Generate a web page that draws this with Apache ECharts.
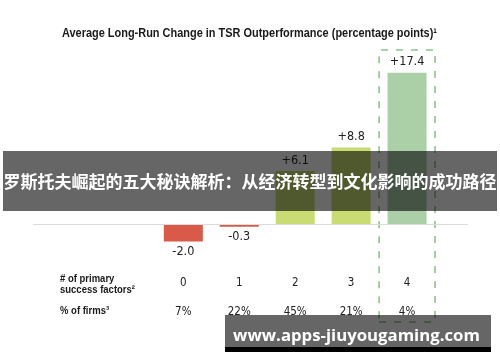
<!DOCTYPE html>
<html><head><meta charset="utf-8">
<script src="https://cdn.jsdelivr.net/npm/echarts@6/dist/echarts.min.js"></script>
<style>html,body{margin:0;padding:0;background:#fff}#c{width:500px;height:362px}</style>
</head><body><div id="c"></div>
<script>
var categories = [0, 1, 2, 3, 4];
var factorLabels = ['0', '1', '2', '3', '4'];
var tsrChange = [-2.0, -0.3, 6.1, 8.8, 17.4];
var firmShare = ['7%', '22%', '45%', '21%', '4%'];
var barColors = ['#d95a48', '#d95a48', '#c9dc73', '#c9dc73', '#abd0a8'];
var highlightIndex = 4;

var ctx = document.createElement('canvas').getContext('2d');
function has(fam) {
  ctx.font = '20px monospace'; var a = ctx.measureText('abcdefghijklmnopWM').width;
  ctx.font = '20px "' + fam + '", monospace'; var b = ctx.measureText('abcdefghijklmnopWM').width;
  return a !== b;
}
var fam = has('Liberation Sans Narrow') ? 'Liberation Sans Narrow' : (has('DejaVu Sans Condensed') ? 'DejaVu Sans Condensed' : 'Liberation Sans');
var narrow = '"' + fam + '", sans-serif';
var sans = '"Liberation Sans", Arial, sans-serif';
function width(text, font) { ctx.font = font; return ctx.measureText(text).width; }
function fit(text, weight, family, target) { return 100 * target / width(text, weight + ' 100px ' + family); }

var titleText = 'Average Long-Run Change in TSR Outperformance (percentage points)\u00b9';
var titleFont = 'bold 13px ' + sans;
var titleScale = 375 / width(titleText, titleFont);
var headFont = 'bold 11.5px ' + sans;
var headScale = 75 / width('success factors\u00b2', headFont);
var wmText = 'www.apps-jiuyougaming.com';
var wmSize = fit(wmText, 'bold', '"Open Sans", sans-serif', 247);

var chart = echarts.init(document.getElementById('c'), null, {renderer: 'canvas'});
var yMin = -11.25, yMax = 20;
chart.setOption({
  animation: false,
  grid: {left: 33, right: 32, top: 50, bottom: 40},
  xAxis: {
    type: 'value', min: -2.6875, max: 5.0893,
    axisLine: {show: false}, axisTick: {show: false}, splitLine: {show: false},
    axisLabel: {
      customValues: categories,
      margin: -53,
      formatter: function (v) {
        var i = categories.indexOf(v);
        return '{a|' + factorLabels[i] + '}\n{b|' + firmShare[i] + '}';
      },
      rich: {
        a: {fontFamily: narrow, fontSize: 11.5, color: '#222', lineHeight: 29},
        b: {fontFamily: narrow, fontSize: 11.5, color: '#222', lineHeight: 29}
      }
    }
  },
  yAxis: {type: 'value', min: yMin, max: yMax, show: false, splitLine: {show: false}},
  series: [{
    type: 'bar', barWidth: 39,
    data: categories.map(function (c, i) {
      return {value: [c, tsrChange[i]], label: {position: tsrChange[i] < 0 ? 'bottom' : 'top'}};
    }),
    itemStyle: {color: function (p) { return barColors[p.dataIndex]; }},
    label: {
      show: true, distance: 4,
      fontFamily: narrow, fontSize: 12.5, color: '#222',
      formatter: function (p) { var v = p.value[1]; return (v > 0 ? '+' : '') + v.toFixed(1); }
    },
    markLine: {
      silent: true, symbol: 'none', label: {show: false},
      lineStyle: {color: '#dcdcdc', width: 1, type: 'solid'},
      data: [{yAxis: 0}]
    },
    markArea: {
      silent: true,
      itemStyle: {color: 'rgba(0,0,0,0)', borderColor: '#8cc58a', borderWidth: 1.6, borderType: [7, 8]},
      data: [[{xAxis: categories[highlightIndex] - 0.5, yAxis: yMax}, {xAxis: categories[highlightIndex] + 0.5, yAxis: yMin}]]
    }
  }],
  graphic: [
    {type: 'text', x: 62, y: 33, scaleX: titleScale, style: {text: titleText, font: titleFont, fill: '#1a1a1a', align: 'left', verticalAlign: 'middle'}},
    {type: 'text', x: 60, y: 273, scaleX: headScale, style: {text: '# of primary\nsuccess factors\u00b2', font: headFont, fill: '#1a1a1a', lineHeight: 11, verticalAlign: 'top'}},
    {type: 'text', x: 60, y: 305, scaleX: headScale, style: {text: '% of firms\u00b3', font: headFont, fill: '#1a1a1a', verticalAlign: 'top'}},
    {type: 'rect', z: 100, shape: {x: 3, y: 151, width: 494, height: 60}, style: {fill: 'rgba(0,0,0,0.6)'}},
    {type: 'text', z: 101, x: 250, y: 182, style: {text: '罗斯托夫崛起的五大秘诀解析：从经济转型到文化影响的成功路径', font: 'bold 17px "Noto Sans CJK SC", sans-serif', fill: '#fff', align: 'center', verticalAlign: 'middle'}},
    {type: 'rect', z: 100, shape: {x: 225, y: 315, width: 266, height: 32}, style: {fill: 'rgba(0,0,0,0.6)'}},
    {type: 'rect', z: 100, shape: {x: 225, y: 347, width: 266, height: 5}, style: {fill: '#000'}},
    {type: 'text', z: 101, x: 356.5, y: 336, style: {text: wmText, font: 'bold ' + wmSize + 'px "Open Sans", sans-serif', fill: '#fff', align: 'center', verticalAlign: 'middle'}}
  ]
});
</script></body></html>
